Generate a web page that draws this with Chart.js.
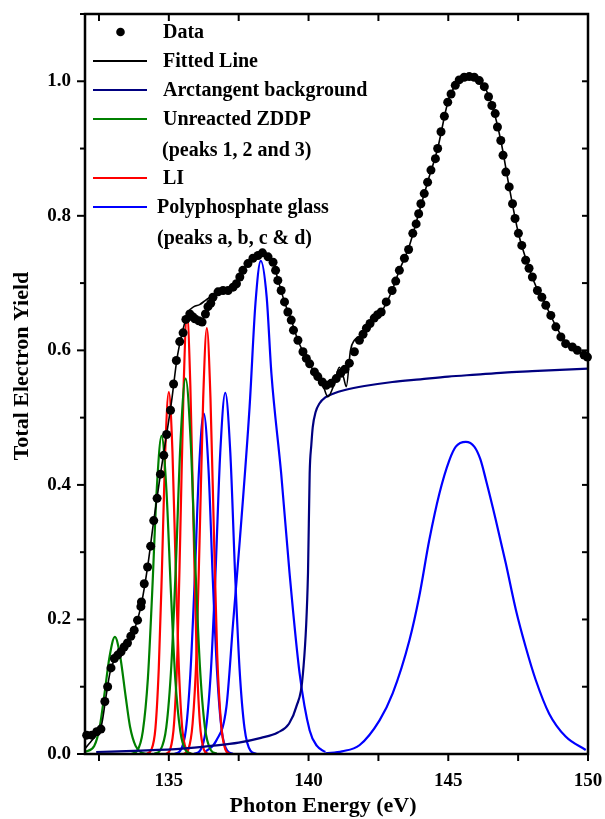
<!DOCTYPE html>
<html lang="en">
<head>
  <meta charset="UTF-8" />
  <title>Total Electron Yield</title>
  <script src="https://cdn.jsdelivr.net/npm/chart.js"></script>
  <style>
    body { margin: 0; background: #fff; }
    canvas { display: block; }
  </style>
</head>
<body>
  <canvas id="tey" width="605" height="819"></canvas>

  <script>
    // Measured points (photon energy in eV, yield)
    const dataX = [132.06, 132.24, 132.42, 132.57, 132.71, 132.81, 132.93, 133.05, 133.17, 133.29, 133.40, 133.52, 133.64, 133.76, 133.88, 134.00, 134.02, 134.12, 134.24, 134.35, 134.46, 134.58, 134.70, 134.82, 134.92, 135.06, 135.17, 135.27, 135.39, 135.51, 135.61, 135.75, 135.85, 135.93, 136.07, 136.19, 136.31, 136.40, 136.50, 136.58, 136.76, 136.94, 137.12, 137.30, 137.42, 137.54, 137.65, 137.83, 138.01, 138.19, 138.35, 138.55, 138.73, 138.82, 138.90, 139.02, 139.14, 139.26, 139.38, 139.46, 139.62, 139.80, 139.92, 140.04, 140.21, 140.33, 140.49, 140.63, 140.81, 140.99, 141.15, 141.30, 141.46, 141.64, 141.82, 141.95, 142.07, 142.20, 142.35, 142.47, 142.60, 142.78, 142.99, 143.12, 143.25, 143.43, 143.58, 143.73, 143.85, 143.94, 144.02, 144.14, 144.26, 144.38, 144.54, 144.62, 144.74, 144.86, 144.98, 145.10, 145.25, 145.39, 145.57, 145.75, 145.93, 146.11, 146.29, 146.44, 146.56, 146.68, 146.76, 146.88, 146.96, 147.06, 147.18, 147.30, 147.39, 147.51, 147.63, 147.77, 147.89, 148.01, 148.19, 148.35, 148.49, 148.67, 148.85, 149.03, 149.20, 149.44, 149.62, 149.86, 149.98];
    const dataY = [0.028, 0.028, 0.033, 0.037, 0.078, 0.100, 0.128, 0.142, 0.147, 0.152, 0.159, 0.165, 0.175, 0.184, 0.199, 0.219, 0.226, 0.253, 0.278, 0.309, 0.347, 0.380, 0.416, 0.444, 0.475, 0.511, 0.550, 0.585, 0.613, 0.626, 0.646, 0.654, 0.650, 0.647, 0.644, 0.642, 0.654, 0.665, 0.670, 0.679, 0.687, 0.689, 0.689, 0.694, 0.699, 0.709, 0.719, 0.729, 0.737, 0.741, 0.745, 0.739, 0.731, 0.719, 0.704, 0.689, 0.672, 0.657, 0.645, 0.630, 0.615, 0.598, 0.588, 0.580, 0.568, 0.561, 0.553, 0.548, 0.551, 0.558, 0.566, 0.572, 0.581, 0.598, 0.615, 0.624, 0.633, 0.640, 0.648, 0.653, 0.657, 0.672, 0.689, 0.703, 0.719, 0.737, 0.750, 0.774, 0.788, 0.803, 0.818, 0.833, 0.850, 0.868, 0.885, 0.900, 0.925, 0.948, 0.969, 0.981, 0.994, 1.002, 1.006, 1.007, 1.006, 1.001, 0.992, 0.977, 0.964, 0.952, 0.932, 0.912, 0.890, 0.865, 0.843, 0.818, 0.796, 0.774, 0.756, 0.734, 0.722, 0.709, 0.689, 0.679, 0.667, 0.652, 0.635, 0.620, 0.610, 0.605, 0.600, 0.593, 0.590];

    // Fitted line
    const fitX = [132.0, 132.2, 132.4, 132.6, 132.75, 132.9, 133.05, 133.3, 133.5, 133.76, 134.0, 134.24, 134.46, 134.7, 134.92, 135.1, 135.3, 135.5, 135.7, 135.9, 136.1, 136.3, 136.5, 136.76, 137.0, 137.3, 137.54, 137.83, 138.01, 138.19, 138.35, 138.55, 138.73, 138.9, 139.14, 139.38, 139.62, 139.92, 140.2, 140.5, 140.69, 140.9, 141.1, 141.25, 141.35, 141.5, 141.64, 141.82, 142.07, 142.35, 142.6, 142.99, 143.25, 143.58, 143.94, 144.26, 144.62, 144.98, 145.25, 145.57, 145.93, 146.29, 146.56, 146.88, 147.18, 147.51, 147.89, 148.19, 148.49, 148.85, 149.2, 149.62, 150.0];
    const fitY = [0.008, 0.018, 0.028, 0.045, 0.085, 0.122, 0.140, 0.152, 0.164, 0.184, 0.219, 0.278, 0.347, 0.416, 0.475, 0.525, 0.590, 0.630, 0.657, 0.665, 0.668, 0.674, 0.680, 0.688, 0.689, 0.694, 0.709, 0.729, 0.737, 0.742, 0.744, 0.739, 0.731, 0.706, 0.672, 0.645, 0.615, 0.588, 0.568, 0.550, 0.531, 0.548, 0.575, 0.560, 0.546, 0.600, 0.615, 0.620, 0.633, 0.648, 0.657, 0.689, 0.719, 0.752, 0.803, 0.850, 0.900, 0.968, 0.994, 1.005, 1.005, 0.992, 0.965, 0.912, 0.843, 0.774, 0.722, 0.690, 0.667, 0.636, 0.612, 0.600, 0.590];

    // Arctangent background
    const bgX = [132.4, 134.0, 135.5, 136.5, 137.5, 138.3, 138.9, 139.3, 139.56, 139.8, 139.98, 140.04, 140.1, 140.15, 140.25, 140.39, 140.6, 140.9, 141.3, 142.0, 143.0, 144.0, 145.0, 146.0, 147.0, 148.0, 149.0, 150.0];
    const bgY = [0.003, 0.005, 0.008, 0.012, 0.017, 0.024, 0.032, 0.045, 0.070, 0.120, 0.269, 0.417, 0.460, 0.486, 0.508, 0.521, 0.530, 0.536, 0.541, 0.547, 0.553, 0.557, 0.561, 0.564, 0.567, 0.569, 0.571, 0.573];

    // Unreacted ZDDP, peaks 1, 2 and 3
    const zddp1X = [132.0, 132.33, 132.53, 132.69, 132.88, 133.07, 133.26, 133.45, 133.61, 133.81, 134.03, 134.25];
    const zddp1Y = [0.003, 0.012, 0.041, 0.087, 0.145, 0.174, 0.145, 0.087, 0.041, 0.012, 0.002, 0.0];
    const zddp2X = [133.67, 133.87, 134.07, 134.25, 134.40, 134.57, 134.74, 134.91, 135.08, 135.23, 135.41, 135.61, 135.81];
    const zddp2Y = [0.0005, 0.005, 0.034, 0.112, 0.236, 0.395, 0.473, 0.395, 0.236, 0.112, 0.034, 0.005, 0.0005];
    const zddp3X = [134.49, 134.70, 134.91, 135.09, 135.25, 135.42, 135.60, 135.78, 135.95, 136.11, 136.29, 136.50, 136.71];
    const zddp3Y = [0.0006, 0.006, 0.040, 0.132, 0.279, 0.466, 0.558, 0.466, 0.279, 0.132, 0.040, 0.006, 0.0006];

    // LI
    const li1X = [134.22, 134.37, 134.52, 134.64, 134.75, 134.87, 135.00, 135.13, 135.25, 135.36, 135.48, 135.63, 135.78];
    const li1Y = [0.0005, 0.006, 0.038, 0.127, 0.269, 0.449, 0.538, 0.449, 0.269, 0.127, 0.038, 0.006, 0.0005];
    const li2X = [134.91, 135.05, 135.19, 135.31, 135.41, 135.53, 135.65, 135.77, 135.89, 135.99, 136.11, 136.25, 136.39];
    const li2Y = [0.0007, 0.007, 0.047, 0.155, 0.328, 0.547, 0.655, 0.547, 0.328, 0.155, 0.047, 0.007, 0.0007];
    const li3X = [135.55, 135.70, 135.85, 135.99, 136.10, 136.23, 136.36, 136.49, 136.62, 136.73, 136.87, 137.02, 137.17];
    const li3Y = [0.0006, 0.007, 0.045, 0.149, 0.317, 0.529, 0.633, 0.529, 0.317, 0.149, 0.045, 0.007, 0.0006];

    // Polyphosphate glass, peaks a, b, c and d
    const polyAX = [135.21, 135.41, 135.61, 135.77, 135.92, 136.08, 136.25, 136.42, 136.58, 136.73, 136.89, 137.09, 137.29];
    const polyAY = [0.0005, 0.005, 0.036, 0.119, 0.253, 0.423, 0.506, 0.423, 0.253, 0.119, 0.036, 0.005, 0.0005];
    const polyBX = [135.91, 136.12, 136.33, 136.51, 136.67, 136.84, 137.02, 137.20, 137.37, 137.53, 137.71, 137.92, 138.13];
    const polyBY = [0.0005, 0.005, 0.038, 0.127, 0.269, 0.448, 0.537, 0.448, 0.269, 0.127, 0.038, 0.005, 0.0005];
    const polyCX = [136.3, 136.7, 137.06, 137.3, 137.54, 137.89, 138.1, 138.29, 138.5, 138.67, 139.02, 139.32, 139.68, 140.04, 140.3, 140.6];
    const polyCY = [0.003, 0.020, 0.070, 0.195, 0.318, 0.516, 0.670, 0.733, 0.680, 0.566, 0.417, 0.269, 0.120, 0.035, 0.012, 0.003];
    const polyDX = [140.6, 141.2, 141.82, 142.54, 143.01, 143.61, 143.96, 144.32, 144.68, 145.04, 145.27, 145.63, 145.93, 146.15, 146.35, 146.70, 147.06, 147.42, 147.77, 148.13, 148.61, 149.20, 149.92];
    const polyDY = [0.001, 0.004, 0.013, 0.050, 0.090, 0.169, 0.234, 0.318, 0.387, 0.437, 0.457, 0.464, 0.457, 0.438, 0.407, 0.348, 0.283, 0.214, 0.159, 0.110, 0.060, 0.026, 0.006];

    // Axis ticks
    const xTicks = [132.5, 135, 137.5, 140, 142.5, 145, 147.5, 150];
    const xTickLabels = ['', '135', '', '140', '', '145', '', '150'];
    const yTicks = [0, 0.1, 0.2, 0.3, 0.4, 0.5, 0.6, 0.7, 0.8, 0.9, 1.0, 1.1];
    const yTickLabels = ['0.0', '', '0.2', '', '0.4', '', '0.6', '', '0.8', '', '1.0', ''];

    const FONT = '"Liberation Serif", "Times New Roman", serif';
    const GREEN = '#008000', RED = '#ff0000', BLUE = '#0000ff', NAVY = '#000080';

    const pts = (xs, ys) => xs.map((x, i) => ({ x: x, y: ys[i] }));
    const curve = (label, xs, ys, color) => ({
      label: label,
      data: pts(xs, ys),
      borderColor: color,
      borderWidth: 2.2,
      pointRadius: 0,
      cubicInterpolationMode: 'monotone',
      fill: false
    });

    // legend rows: text, symbol, colour, text x, row y
    const legendRows = [
      { text: 'Data', sym: 'dot', color: '#000', tx: 163, y: 32 },
      { text: 'Fitted Line', sym: 'line', color: '#000', tx: 163, y: 61 },
      { text: 'Arctangent background', sym: 'line', color: NAVY, tx: 163, y: 90 },
      { text: 'Unreacted ZDDP', sym: 'line', color: GREEN, tx: 163, y: 119 },
      { text: '(peaks 1, 2 and 3)', sym: null, color: null, tx: 162, y: 150 },
      { text: 'LI', sym: 'line', color: RED, tx: 163, y: 178 },
      { text: 'Polyphosphate glass', sym: 'line', color: BLUE, tx: 157, y: 207 },
      { text: '(peaks a, b, c & d)', sym: null, color: null, tx: 157, y: 238 }
    ];

    const framePlugin = {
      id: 'frame',
      afterDraw(chart) {
        const { ctx, chartArea: a, scales: { x, y } } = chart;
        ctx.save();
        ctx.strokeStyle = '#000';
        ctx.lineWidth = 2;
        const seg = (x1, y1, x2, y2) => { ctx.beginPath(); ctx.moveTo(x1, y1); ctx.lineTo(x2, y2); ctx.stroke(); };
        x.ticks.forEach(t => {
          const px = x.getPixelForValue(t.value);
          seg(px, a.bottom, px, a.bottom + 7);
          seg(px, a.top, px, a.top + 7);
        });
        y.ticks.forEach(t => {
          const py = y.getPixelForValue(t.value);
          const major = t.label !== '';
          seg(a.left - (major ? 8 : 5), py, a.left, py);
          seg(a.right - 6, py, a.right, py);
        });
        ctx.lineWidth = 2.5;
        ctx.strokeRect(a.left, a.top, a.right - a.left, a.bottom - a.top);

        // legend
        ctx.font = 'bold 20px ' + FONT;
        ctx.fillStyle = '#000';
        ctx.textBaseline = 'middle';
        ctx.textAlign = 'left';
        legendRows.forEach(r => {
          if (r.sym === 'dot') {
            ctx.beginPath();
            ctx.arc(120.5, r.y, 4.3, 0, Math.PI * 2);
            ctx.fill();
          } else if (r.sym === 'line') {
            ctx.strokeStyle = r.color;
            ctx.lineWidth = 2;
            seg(93, r.y, 147, r.y);
          }
          ctx.fillText(r.text, r.tx, r.y + 1);
        });

        // axis titles
        ctx.font = 'bold 22px ' + FONT;
        ctx.textAlign = 'center';
        ctx.fillText('Photon Energy (eV)', 323, 806);
        ctx.translate(22, 366);
        ctx.rotate(-Math.PI / 2);
        ctx.fillText('Total Electron Yield', 0, 0);
        ctx.restore();
      }
    };

    new Chart(document.getElementById('tey'), {
      type: 'line',
      data: {
        datasets: [
          {
            label: 'Data',
            data: pts(dataX, dataY),
            showLine: false,
            pointRadius: 4.5,
            pointBorderWidth: 0,
            pointBackgroundColor: '#000',
            pointBorderColor: '#000',
            clip: 4
          },
          {
            label: 'Fitted Line',
            data: pts(fitX, fitY),
            borderColor: '#000',
            borderWidth: 1.6,
            pointRadius: 0,
            cubicInterpolationMode: 'monotone',
            fill: false
          },
          curve('Arctangent background', bgX, bgY, NAVY),
          curve('Unreacted ZDDP 1', zddp1X, zddp1Y, GREEN),
          curve('Unreacted ZDDP 2', zddp2X, zddp2Y, GREEN),
          curve('Unreacted ZDDP 3', zddp3X, zddp3Y, GREEN),
          curve('LI 1', li1X, li1Y, RED),
          curve('LI 2', li2X, li2Y, RED),
          curve('LI 3', li3X, li3Y, RED),
          curve('Polyphosphate a', polyAX, polyAY, BLUE),
          curve('Polyphosphate b', polyBX, polyBY, BLUE),
          curve('Polyphosphate c', polyCX, polyCY, BLUE),
          curve('Polyphosphate d', polyDX, polyDY, BLUE)
        ]
      },
      options: {
        responsive: false,
        animation: false,
        devicePixelRatio: 1,
        layout: { padding: { left: 0, top: 14, right: 17, bottom: 0 } },
        plugins: {
          legend: { display: false },
          tooltip: { enabled: false }
        },
        scales: {
          x: {
            type: 'linear',
            min: 132,
            max: 150,
            afterFit: s => { s.height = 65; s.paddingLeft = 0; s.paddingRight = 0; },
            afterBuildTicks: s => { s.ticks = xTicks.map(v => ({ value: v })); },
            grid: { display: false, drawTicks: false },
            border: { display: false },
            ticks: {
              autoSkip: false,
              maxRotation: 0,
              padding: 16,
              color: '#000',
              font: { family: FONT, size: 19, weight: 'bold' },
              callback: (v, i) => xTickLabels[i]
            }
          },
          y: {
            type: 'linear',
            min: 0,
            max: 1.1,
            afterFit: s => { s.width = 85; s.paddingTop = 0; s.paddingBottom = 0; },
            afterBuildTicks: s => { s.ticks = yTicks.map(v => ({ value: v })); },
            grid: { display: false, drawTicks: false },
            border: { display: false },
            ticks: {
              autoSkip: false,
              padding: 14,
              color: '#000',
              font: { family: FONT, size: 19, weight: 'bold' },
              callback: (v, i) => yTickLabels[i]
            }
          }
        }
      },
      plugins: [framePlugin]
    });
  </script>
</body>
</html>
